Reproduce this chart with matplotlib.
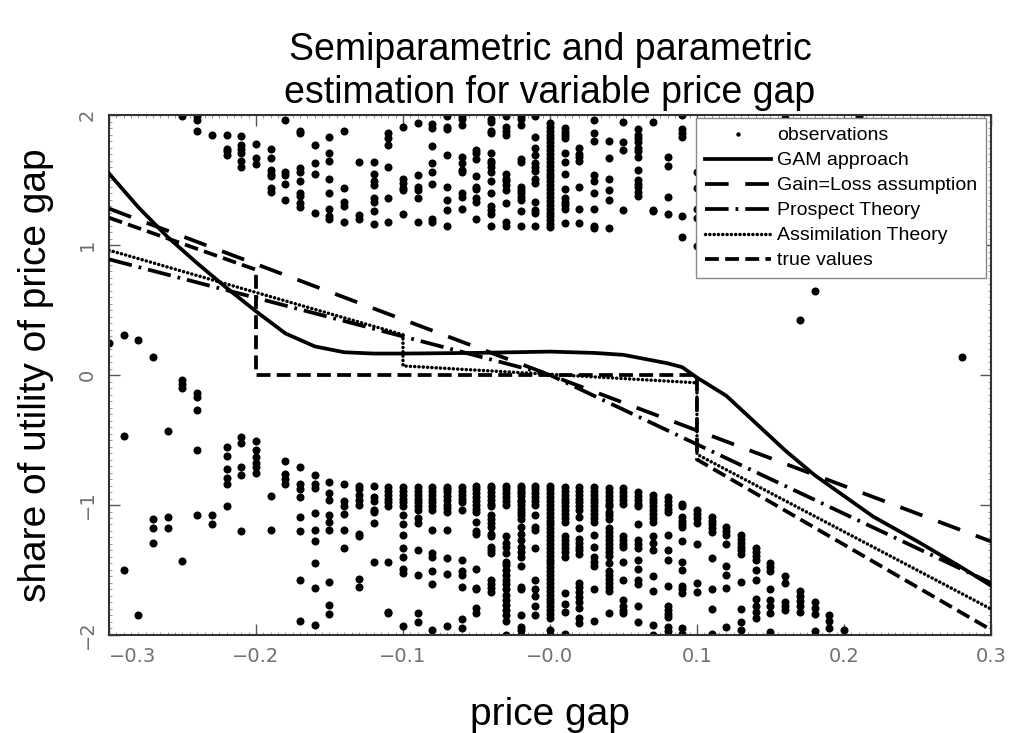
import matplotlib
matplotlib.use('Agg')
import matplotlib.pyplot as plt
from matplotlib.ticker import MultipleLocator

plt.rcParams['font.family'] = ['Liberation Sans', 'DejaVu Sans']
plt.rcParams['lines.scale_dashes'] = False

# observations, one list of shares per price-gap column
obs_gap = [-0.30, -0.29, -0.28, -0.27, -0.26, -0.25, -0.24, -0.23, -0.22, -0.21,
           -0.20, -0.19, -0.18, -0.17, -0.16, -0.15, -0.14, -0.13, -0.12, -0.11,
           -0.10, -0.09, -0.08, -0.07, -0.06, -0.05, -0.04, -0.03, -0.02, -0.01,
           0.00, 0.01, 0.02, 0.03, 0.04, 0.05, 0.06, 0.07, 0.08, 0.09,
           0.10, 0.11, 0.12, 0.13, 0.14, 0.15, 0.16, 0.17, 0.18, 0.19,
           0.20, 0.21, 0.28]
obs_share = [
    [0.25],
    [0.31, -0.47, -1.50],
    [0.27, -1.85],
    [0.14, -1.11, -1.18, -1.29],
    [-0.43, -1.09, -1.18],
    [1.99, -0.04, -0.07, -0.10, -1.43],
    [1.99, 1.96, 1.88, -0.14, -0.17, -0.27, -0.58, -1.08],
    [1.85, -1.08, -1.15],
    [1.85, 1.74, 1.72, 1.69, -0.55, -0.62, -0.72, -0.79, -0.84, -1.01],
    [1.84, 1.77, 1.74, 1.71, 1.65, 1.60, -0.48, -0.52, -0.71, -0.77, -1.20],
    [1.78, 1.67, 1.62, -0.51, -0.58, -0.63, -0.68, -0.71, -0.75],
    [1.74, 1.67, 1.58, 1.55, 1.53, 1.44, 1.41, -0.93, -1.19],
    [1.96, 1.56, 1.54, 1.47, 1.35, -0.66, -0.76, -0.80, -0.84],
    [1.88, 1.86, 1.59, 1.56, 1.49, 1.40, 1.38, 1.32, 1.29,
     -0.71, -0.84, -0.88, -0.94, -1.09, -1.20, -1.58, -1.89],
    [1.77, 1.63, 1.55, 1.25, -0.77, -0.84, -0.87, -1.06, -1.19, -1.28, -1.45, -1.64, -1.92],
    [1.83, 1.71, 1.65, 1.51, 1.40, 1.28, 1.22, 1.20,
     -0.82, -0.91, -0.96, -1.08, -1.13, -1.19, -1.59, -1.77, -1.84],
    [1.88, 1.44, 1.33, 1.30, 1.18, -0.84, -0.97, -1.01, -1.07, -1.19, -1.33],
    [1.64, 1.23, 1.20, -0.85, -0.88, -0.92, -0.96, -1.00, -1.22, -1.24, -1.57, -1.63],
    [1.64, 1.55, 1.49, 1.46, 1.36, 1.33, 1.26, 1.16,
     -0.85, -0.94, -0.97, -1.04, -1.05, -1.14, -1.44],
    [1.86, 1.82, 1.77, 1.60, 1.36, 1.18,
     -0.86, -0.89, -0.92, -0.95, -0.98, -1.01, -1.44, -1.82, -1.83],
    [1.91, 1.51, 1.48, 1.44, 1.42, 1.24,
     -0.86, -0.89, -0.92, -0.95, -0.98, -1.01, -1.08, -1.15, -1.23, -1.33, -1.40, -1.49, -1.52, -1.93],
    [1.94, 1.54, 1.45, 1.42, 1.36, 1.18,
     -0.86, -0.89, -0.92, -0.95, -0.98, -1.01, -1.04, -1.10, -1.14, -1.35, -1.54, -1.83, -1.90],
    [1.93, 1.90, 1.76, 1.63, 1.56, 1.47, 1.20, 1.18,
     -0.86, -0.89, -0.92, -0.95, -0.98, -1.01, -1.04, -1.19, -1.37, -1.40, -1.51, -1.61, -1.96],
    [1.99, 1.91, 1.89, 1.69, 1.45, 1.35, 1.27, 1.15,
     -0.86, -0.88, -0.90, -0.93, -0.96, -1.00, -1.02, -1.05, -1.19, -1.41, -1.53, -1.93],
    [1.99, 1.97, 1.92, 1.68, 1.63, 1.58, 1.56, 1.40, 1.37, 1.28,
     -0.86, -0.89, -0.92, -0.95, -0.98, -1.04, -1.42, -1.51, -1.54, -1.63, -1.88, -1.95],
    [1.73, 1.71, 1.66, 1.53, 1.45, 1.43, 1.36, 1.33, 1.20,
     -0.85, -0.88, -0.91, -0.94, -0.97, -1.00, -1.03, -1.05, -1.13, -1.20, -1.22, -1.49, -1.64, -1.65, -1.79, -1.83],
    [1.97, 1.95, 1.88, 1.86, 1.71, 1.65, 1.63, 1.60, 1.56, 1.49, 1.40, 1.30, 1.27, 1.24, 1.15,
     -0.85, -0.87, -0.90, -0.93, -0.96, -0.99, -1.01, -1.08, -1.11, -1.14, -1.17, -1.22, -1.24,
     -1.32, -1.35, -1.37, -1.58, -1.61, -1.64, -1.67],
    [1.99, 1.91, 1.88, 1.85, 1.55, 1.51, 1.49, 1.46, 1.42, 1.32, 1.18, 1.15,
     -0.85, -0.88, -0.91, -0.94, -0.97, -1.00, -1.24, -1.29, -1.32, -1.37, -1.44, -1.46, -1.50,
     -1.54, -1.58, -1.61, -1.65, -1.69, -1.73, -1.77, -1.81, -1.85, -1.89, -2.00],
    [1.99, 1.97, 1.92, 1.66, 1.64, 1.45, 1.42, 1.40, 1.37, 1.35, 1.26, 1.15,
     -0.85, -0.87, -0.89, -0.91, -0.93, -0.96, -0.98, -1.00, -1.03, -1.05, -1.08, -1.11, -1.17,
     -1.22, -1.27, -1.32, -1.36, -1.40, -1.47, -1.63, -1.65, -1.85, -1.94, -1.96, -2.00],
    [1.99, 1.83, 1.75, 1.69, 1.63, 1.60, 1.57, 1.51, 1.48, 1.33, 1.27, 1.25, 1.15,
     -0.85, -0.88, -0.91, -0.94, -0.97, -1.00, -1.08, -1.17, -1.19, -1.33, -1.58, -1.65, -1.70,
     -1.78, -1.85],
    [1.94, 1.91, 1.88, 1.85, 1.82, 1.79, 1.76, 1.73, 1.70, 1.67, 1.64, 1.61, 1.58, 1.55,
     1.52, 1.49, 1.46, 1.43, 1.40, 1.37, 1.34, 1.31, 1.28, 1.25, 1.22, 1.19, 1.16, 1.14,
     -0.85, -0.88, -0.91, -0.94, -0.97, -1.00, -1.03, -1.06, -1.09, -1.12, -1.15, -1.18,
     -1.21, -1.24, -1.27, -1.30, -1.33, -1.36, -1.39, -1.42, -1.45, -1.48, -1.51, -1.54,
     -1.57, -1.60, -1.63, -1.66, -1.69, -1.72, -1.75, -1.78, -1.81, -1.84, -1.87, -1.96, -2.00],
    [1.90, 1.87, 1.85, 1.82, 1.71, 1.64, 1.55, 1.43, 1.36, 1.33, 1.31, 1.28, 1.17,
     -0.86, -0.89, -0.92, -0.95, -0.98, -1.01, -1.04, -1.07, -1.10, -1.13, -1.24, -1.27,
     -1.30, -1.33, -1.36, -1.40, -1.68, -1.76, -1.82, -1.99],
    [1.75, 1.70, 1.68, 1.65, 1.45, 1.28, 1.17,
     -0.86, -0.89, -0.92, -0.95, -0.98, -1.01, -1.04, -1.09, -1.18, -1.26, -1.29, -1.32,
     -1.35, -1.38, -1.60, -1.63, -1.67, -1.71, -1.75, -1.79, -1.87, -1.91],
    [1.96, 1.86, 1.80, 1.54, 1.49, 1.40, 1.28, 1.15, 1.13,
     -0.86, -0.89, -0.92, -0.95, -0.98, -1.01, -1.04, -1.07, -1.10, -1.13, -1.23, -1.32,
     -1.40, -1.44, -1.47, -1.65, -1.89],
    [1.80, 1.67, 1.51, 1.42, 1.35, 1.13,
     -0.87, -0.90, -0.93, -0.96, -0.99, -1.01, -1.05, -1.08, -1.11, -1.18, -1.21, -1.24,
     -1.27, -1.30, -1.33, -1.36, -1.39, -1.45, -1.51, -1.54, -1.57, -1.60, -1.63, -1.66, -1.83],
    [1.95, 1.79, 1.73, 1.27,
     -0.87, -0.90, -0.93, -0.96, -0.99, -1.24, -1.27, -1.30, -1.32, -1.44, -1.58, -1.73,
     -1.78, -1.81, -1.83],
    [1.89, 1.85, 1.82, 1.79, 1.75, 1.72, 1.68, 1.58, 1.50, 1.47, 1.45, 1.41, 1.38,
     -0.90, -0.93, -0.96, -0.99, -1.01, -1.15, -1.27, -1.30, -1.33, -1.42, -1.49, -1.58,
     -1.61, -1.78, -1.90],
    [1.95, 1.27, 1.26,
     -0.92, -0.95, -0.98, -1.01, -1.04, -1.07, -1.10, -1.13, -1.24, -1.29, -1.35, -1.55,
     -1.66, -1.92, -2.00],
    [1.68, 1.61, 1.37, 1.24,
     -0.94, -0.97, -1.00, -1.03, -1.05, -1.23, -1.35, -1.42, -1.62, -1.78, -1.81, -1.84,
     -1.86, -1.94, -1.97, -2.00],
    [2.00, 1.89, 1.86, 1.83, 1.22, 1.06,
     -0.99, -1.01, -1.09, -1.12, -1.15, -1.17, -1.28, -1.44, -1.50, -1.62, -1.65, -1.68,
     -1.95, -1.99],
    [1.56, 1.44, 1.28, 1.21, 0.99, -1.04, -1.07, -1.10, -1.14, -1.30, -1.60, -1.67],
    [-1.09, -1.12, -1.15, -1.18, -1.21, -1.41, -1.65, -1.80, -1.99],
    [-1.17, -1.20, -1.23, -1.30, -1.47, -1.54, -1.64, -1.94],
    [-1.23, -1.26, -1.29, -1.32, -1.35, -1.38, -1.59, -1.80, -1.90, -1.96],
    [-1.33, -1.36, -1.39, -1.42, -1.50, -1.58, -1.72, -1.78, -1.82, -1.87],
    [-1.45, -1.48, -1.51, -1.65, -1.73, -1.78, -1.83, -1.98],
    [1.98, -1.55, -1.60, -1.75, -1.78, -1.81],
    [0.42, -1.66, -1.70, -1.74, -1.78, -1.82],
    [0.65, -1.75, -1.79, -1.84, -1.97],
    [-1.85, -1.89, -1.95],
    [-1.96],
    [1.99],
    [0.14],
]

# estimated curves
gam_x = [-0.30, -0.28, -0.26, -0.24, -0.22, -0.20, -0.18, -0.16, -0.14, -0.12,
         -0.10, -0.05, 0.00, 0.03, 0.05, 0.08, 0.09, 0.10, 0.12, 0.14,
         0.16, 0.18, 0.20, 0.22, 0.25, 0.28, 0.30]
gam_y = [1.55, 1.29, 1.06, 0.86, 0.67, 0.49, 0.32, 0.22, 0.175, 0.165,
         0.165, 0.17, 0.18, 0.17, 0.155, 0.09, 0.06, -0.02, -0.16, -0.37,
         -0.58, -0.77, -0.93, -1.09, -1.28, -1.48, -1.62]
gainloss_x = [-0.30, 0.30]
gainloss_y = [1.28, -1.28]
prospect_x = [-0.30, 0.00, 0.30]
prospect_y = [0.89, 0.00, -1.60]
assim_x = [-0.30, -0.10, -0.10, 0.10, 0.10, 0.30]
assim_y = [0.96, 0.31, 0.07, -0.06, -0.61, -1.80]
true_x = [-0.30, -0.20, -0.20, 0.10, 0.10, 0.30]
true_y = [1.21, 0.81, 0.00, 0.00, -0.65, -1.96]

xticks = [-0.3, -0.2, -0.1, 0.0, 0.1, 0.2, 0.3]
xtick_labels = ['\u22120.3', '\u22120.2', '\u22120.1', '\u22120.0', '0.1', '0.2', '0.3']
yticks = [-2, -1, 0, 1, 2]
ytick_labels = ['\u22122', '\u22121', '0', '1', '2']

pts_x = [g for g, col in zip(obs_gap, obs_share) for _ in col]
pts_y = [v for col in obs_share for v in col]

fig = plt.figure(figsize=(10.12, 7.33), dpi=100)
ax = fig.add_axes([0.1077, 0.1337, 0.8715, 0.7094])

ax.plot(pts_x, pts_y, 'o', color='k', ms=5.8, mew=0, label='observations', zorder=2)
ax.plot(gam_x, gam_y, color='k', lw=2.7, label='GAM approach', zorder=3)
ax.plot(gainloss_x, gainloss_y, color='k', lw=2.7, dashes=(17, 12), label='Gain=Loss assumption', zorder=3)
ax.plot(prospect_x, prospect_y, color='k', lw=2.7, dashes=(17, 5, 2, 5), label='Prospect Theory', zorder=3)
ax.plot(assim_x, assim_y, color='k', lw=2.5, dashes=(0.1, 3.0), dash_capstyle='round',
        label='Assimilation Theory', zorder=3)
ax.plot(true_x, true_y, color='k', lw=2.7, dashes=(10, 4.5), label='true values', zorder=3)

ax.set_xlim(-0.3, 0.3)
ax.set_ylim(-2, 2)
ax.set_xticks(xticks)
ax.set_xticklabels(xtick_labels, fontsize=14, color='#707070', family='DejaVu Sans')
ax.get_xticklabels()[0].set_ha('left')
ax.set_yticks(yticks)
ax.set_yticklabels(ytick_labels, fontsize=14, color='#707070', family='DejaVu Sans',
                   rotation=90, va='center')
ax.xaxis.set_minor_locator(MultipleLocator(0.005))
ax.yaxis.set_minor_locator(MultipleLocator(0.05))
ax.tick_params(which='major', direction='in', top=True, right=True, length=8,
               width=1, color='#555555', pad=9)
ax.tick_params(which='minor', direction='in', top=True, right=True, length=2,
               width=0.6, color='#888888')
for s in ax.spines.values():
    s.set_linewidth(1.5)
    s.set_color('#333333')

ax.set_title('Semiparametric and parametric\nestimation for variable price gap',
             fontsize=27, pad=9, linespacing=1.25)
ax.set_xlabel('price gap', fontsize=28)
ax.xaxis.set_label_coords(0.5, -0.12)
ax.set_ylabel('share of utility of price gap', fontsize=28)
ax.yaxis.set_label_coords(-0.062, 0.5)

leg = ax.legend(loc='upper right', bbox_to_anchor=(0.994, 0.994), borderaxespad=0,
                fontsize=14, frameon=True, fancybox=False, edgecolor='#888888',
                framealpha=1, labelspacing=0.38, handlelength=3.4, handletextpad=0.3,
                borderpad=0.45, numpoints=1, markerscale=0.55)
leg.get_frame().set_linewidth(1.0)

fig.savefig('out.png', dpi=100)
